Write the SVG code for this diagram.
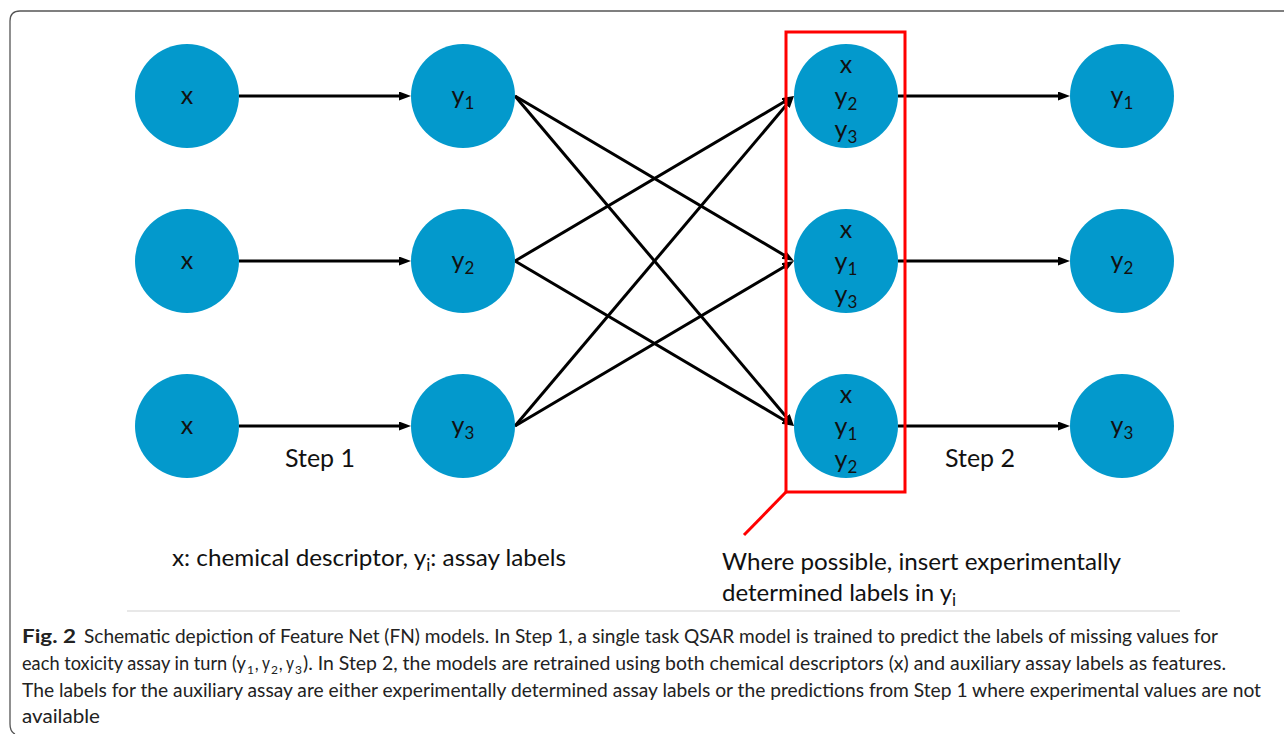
<svg xmlns="http://www.w3.org/2000/svg" width="1284" height="734" viewBox="0 0 1284 734">
<style>
.node{fill:#0399cc}
.lbl{font-family:Lato,"Open Sans","Liberation Sans",sans-serif;font-size:25px;fill:#111;text-anchor:middle}
.sub{font-size:17px}
.ann{font-family:Lato,"Open Sans","Liberation Sans",sans-serif;font-size:24px;fill:#111}
.cap{font-family:Lato,"Noto Sans","Liberation Sans",sans-serif;font-size:18.5px;fill:#222}
.capsub{font-family:Lato,"Noto Sans","Liberation Sans",sans-serif;font-size:12px;fill:#222}
.arr{stroke:#000;stroke-width:3;fill:none;marker-end:url(#ah)}
</style>
<defs>
<marker id="ah" markerUnits="userSpaceOnUse" markerWidth="13" markerHeight="11" refX="6" refY="4.5" orient="auto">
<path d="M0,0 L12,4.5 L0,9 z" fill="#000"/>
</marker>
</defs>
<rect width="1284" height="734" fill="#fff"/>
<path d="M1284 11 L20 11 Q10 11 10 21 L10 724 Q10 732 15 734" fill="none" stroke="#555" stroke-width="1.3"/>
<line x1="127" y1="611" x2="1180" y2="611" stroke="#e0e0e0" stroke-width="1.5"/>

<g id="connectors">
<line class="arr" x1="239" y1="96" x2="405" y2="96"/>
<line class="arr" x1="239" y1="261" x2="405" y2="261"/>
<line class="arr" x1="239" y1="426" x2="405" y2="426"/>
<line class="arr" x1="515" y1="96" x2="788.84" y2="257.95"/>
<line class="arr" x1="515" y1="96" x2="790.13" y2="421.42"/>
<line class="arr" x1="515" y1="261" x2="788.84" y2="99.05"/>
<line class="arr" x1="515" y1="261" x2="788.84" y2="422.95"/>
<line class="arr" x1="515" y1="426" x2="790.13" y2="100.58"/>
<line class="arr" x1="515" y1="426" x2="788.84" y2="264.05"/>
<line class="arr" x1="898" y1="96" x2="1064" y2="96"/>
<line class="arr" x1="898" y1="261" x2="1064" y2="261"/>
<line class="arr" x1="898" y1="426" x2="1064" y2="426"/>
</g>

<g id="x1"><circle class="node" cx="187" cy="96" r="52"/><text class="lbl" x="187" y="104">x</text></g>
<g id="x2"><circle class="node" cx="187" cy="261" r="52"/><text class="lbl" x="187" y="269">x</text></g>
<g id="x3"><circle class="node" cx="187" cy="426" r="52"/><text class="lbl" x="187" y="434">x</text></g>

<g id="s1y1"><circle class="node" cx="463" cy="96" r="52"/><text class="lbl" x="463" y="104">y<tspan class="sub" dy="5">1</tspan></text></g>
<g id="s1y2"><circle class="node" cx="463" cy="261" r="52"/><text class="lbl" x="463" y="269">y<tspan class="sub" dy="5">2</tspan></text></g>
<g id="s1y3"><circle class="node" cx="463" cy="426" r="52"/><text class="lbl" x="463" y="434">y<tspan class="sub" dy="5">3</tspan></text></g>

<g id="m1"><circle class="node" cx="846" cy="96" r="52"/>
<text class="lbl" x="846" y="73">x</text>
<text class="lbl" x="846" y="105">y<tspan class="sub" dy="5">2</tspan></text>
<text class="lbl" x="846" y="138">y<tspan class="sub" dy="5">3</tspan></text></g>
<g id="m2"><circle class="node" cx="846" cy="261" r="52"/>
<text class="lbl" x="846" y="238">x</text>
<text class="lbl" x="846" y="270">y<tspan class="sub" dy="5">1</tspan></text>
<text class="lbl" x="846" y="303">y<tspan class="sub" dy="5">3</tspan></text></g>
<g id="m3"><circle class="node" cx="846" cy="426" r="52"/>
<text class="lbl" x="846" y="403">x</text>
<text class="lbl" x="846" y="435">y<tspan class="sub" dy="5">1</tspan></text>
<text class="lbl" x="846" y="468">y<tspan class="sub" dy="5">2</tspan></text></g>

<g id="o1"><circle class="node" cx="1122" cy="96" r="52"/><text class="lbl" x="1122" y="104">y<tspan class="sub" dy="5">1</tspan></text></g>
<g id="o2"><circle class="node" cx="1122" cy="261" r="52"/><text class="lbl" x="1122" y="269">y<tspan class="sub" dy="5">2</tspan></text></g>
<g id="o3"><circle class="node" cx="1122" cy="426" r="52"/><text class="lbl" x="1122" y="434">y<tspan class="sub" dy="5">3</tspan></text></g>

<g id="highlight">
<rect x="786" y="32" width="119" height="460" fill="none" stroke="#ff0000" stroke-width="3"/>
<line x1="786" y1="492" x2="744" y2="535" stroke="#ff0000" stroke-width="3"/>
</g>

<text class="lbl" x="320" y="467">Step 1</text>
<text class="lbl" x="980" y="467">Step 2</text>

<text class="ann" x="172" y="566" textLength="394" lengthAdjust="spacingAndGlyphs">x: chemical descriptor, y<tspan class="sub" dy="5">i</tspan><tspan dy="-5">: assay labels</tspan></text>
<text class="ann" x="722" y="570" textLength="399" lengthAdjust="spacingAndGlyphs">Where possible, insert experimentally</text>
<text class="ann" x="722" y="601">determined labels in y<tspan class="sub" dy="5">i</tspan></text>

<g id="caption">
<text class="cap" x="22" y="643" font-weight="bold" textLength="54" lengthAdjust="spacingAndGlyphs">Fig. 2</text>
<text class="cap" x="84" y="643" textLength="1134" lengthAdjust="spacingAndGlyphs">Schematic depiction of Feature Net (FN) models. In Step 1, a single task QSAR model is trained to predict the labels of missing values for</text>
<text class="cap" x="22" y="670" textLength="224" lengthAdjust="spacingAndGlyphs">each toxicity assay in turn (y</text>
<text class="capsub" x="247" y="674">1</text>
<text class="cap" x="255" y="670" textLength="15" lengthAdjust="spacingAndGlyphs">, y</text>
<text class="capsub" x="271" y="674">2</text>
<text class="cap" x="279" y="670" textLength="15" lengthAdjust="spacingAndGlyphs">, y</text>
<text class="capsub" x="295" y="674">3</text>
<text class="cap" x="303" y="670" textLength="923" lengthAdjust="spacingAndGlyphs">). In Step 2, the models are retrained using both chemical descriptors (x) and auxiliary assay labels as features.</text>
<text class="cap" x="22" y="697" textLength="1239" lengthAdjust="spacingAndGlyphs">The labels for the auxiliary assay are either experimentally determined assay labels or the predictions from Step 1 where experimental values are not</text>
<text class="cap" x="22" y="723" textLength="78" lengthAdjust="spacingAndGlyphs">available</text>
</g>
</svg>
